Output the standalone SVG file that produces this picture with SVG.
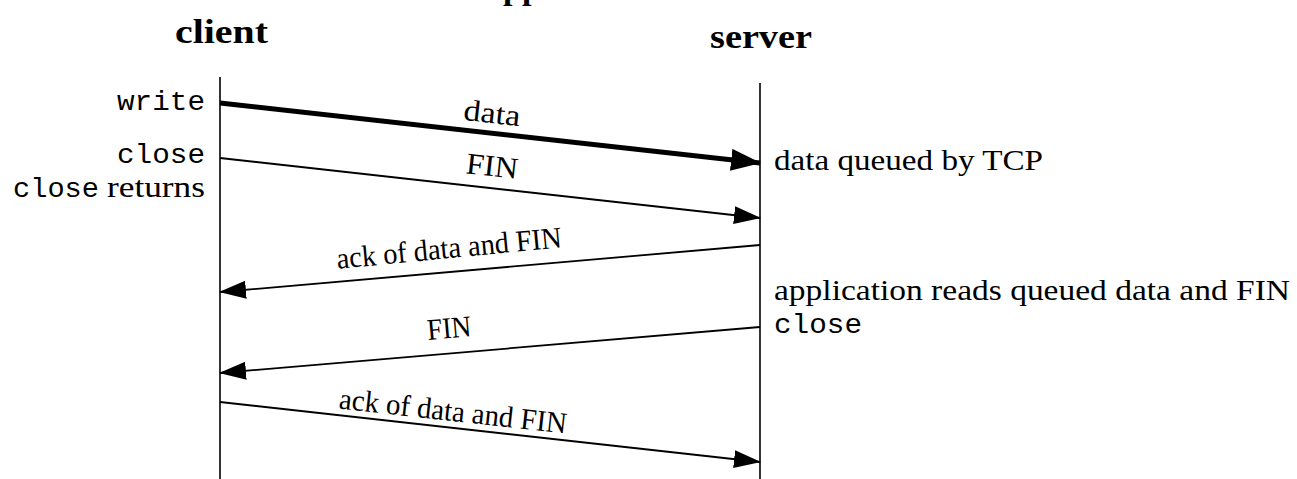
<svg xmlns="http://www.w3.org/2000/svg" width="1297" height="479" viewBox="0 0 1297 479">
<defs>
<style>
.hdr{font-family:"Liberation Serif",serif;font-weight:bold;font-size:34px;fill:#000}
.mono{font-family:"Liberation Mono",monospace;font-size:27px;fill:#000}
.ser{font-family:"Liberation Serif",serif;font-size:30px;fill:#000}
.life{stroke:#000;stroke-width:1.6;fill:none}
.msg{stroke:#000;stroke-width:1.8;fill:none}
.thick{stroke:#000;stroke-width:5;fill:none}
</style>
<marker id="ah" markerUnits="userSpaceOnUse" markerWidth="28" markerHeight="20" refX="26" refY="9" orient="auto" viewBox="0 0 28 20">
<path d="M0,0 L27,9 L0,18 Z" fill="#000"/>
</marker>
<marker id="ahT" markerUnits="userSpaceOnUse" markerWidth="32" markerHeight="24" refX="29" refY="11" orient="auto" viewBox="0 0 32 24">
<path d="M0,0 L30,11 L0,22 Z" fill="#000"/>
</marker>
</defs>
<rect width="1297" height="479" fill="#fff"/>
<text class="hdr" x="503" y="-1" font-size="40">pp</text>
<g id="client">
<text class="hdr" x="175" y="43" textLength="93" lengthAdjust="spacingAndGlyphs">client</text>
<line class="life" x1="220" y1="77" x2="220" y2="479"/>
<text class="mono" x="205" y="110" text-anchor="end" textLength="88" lengthAdjust="spacingAndGlyphs">write</text>
<text class="mono" x="205" y="163" text-anchor="end" textLength="88" lengthAdjust="spacingAndGlyphs">close</text>
<text class="mono" x="13" y="197" textLength="86" lengthAdjust="spacingAndGlyphs">close</text>
<text class="ser" x="107" y="197" textLength="98" lengthAdjust="spacingAndGlyphs">returns</text>
</g>
<g id="server">
<text class="hdr" x="710" y="48" textLength="102" lengthAdjust="spacingAndGlyphs">server</text>
<line class="life" x1="760" y1="83" x2="760" y2="479"/>
<text class="ser" x="774" y="170" textLength="269" lengthAdjust="spacingAndGlyphs">data queued by TCP</text>
<text class="ser" x="774" y="300" textLength="516" lengthAdjust="spacingAndGlyphs">application reads queued data and FIN</text>
<text class="mono" x="774" y="333" textLength="88" lengthAdjust="spacingAndGlyphs">close</text>
</g>
<g id="connectors">
<line class="thick" x1="220" y1="103" x2="760" y2="163" marker-end="url(#ahT)"/>
<line class="msg" x1="220" y1="158" x2="760" y2="218" marker-end="url(#ah)"/>
<line class="msg" x1="760" y1="245" x2="220" y2="292" marker-end="url(#ah)"/>
<line class="msg" x1="760" y1="327" x2="220" y2="373" marker-end="url(#ah)"/>
<line class="msg" x1="220" y1="402" x2="760" y2="462" marker-end="url(#ah)"/>
<text class="ser" transform="translate(491,123) rotate(6.3)" text-anchor="middle" textLength="57" lengthAdjust="spacingAndGlyphs">data</text>
<text class="ser" transform="translate(491,176) rotate(6.3)" text-anchor="middle" textLength="52" lengthAdjust="spacingAndGlyphs">FIN</text>
<text class="ser" transform="translate(450,258) rotate(-5.5)" text-anchor="middle" textLength="226" lengthAdjust="spacingAndGlyphs">ack of data and FIN</text>
<text class="ser" transform="translate(450,338) rotate(-5)" text-anchor="middle" textLength="44" lengthAdjust="spacingAndGlyphs">FIN</text>
<text class="ser" transform="translate(452,421) rotate(6.3)" text-anchor="middle" textLength="229" lengthAdjust="spacingAndGlyphs">ack of data and FIN</text>
</g>
</svg>
